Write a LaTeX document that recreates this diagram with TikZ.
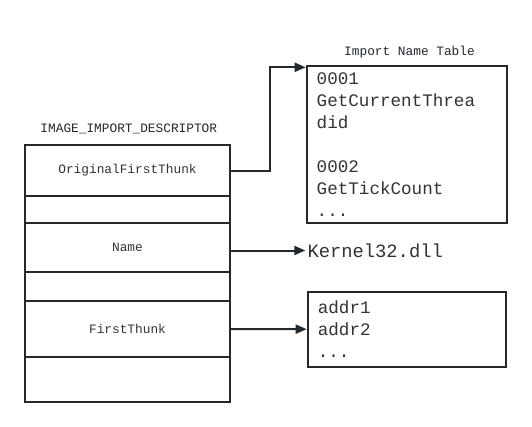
\documentclass[tikz,border=0pt]{standalone}
\usepackage{fontspec}
\setmonofont{Liberation Mono}
\usetikzlibrary{arrows.meta}
\definecolor{ln}{HTML}{23292E}
\definecolor{tx}{HTML}{333333}
\begin{document}
\begin{tikzpicture}[x=1pt,y=-1pt,
  rowbox/.style={draw=ln,line width=2pt,minimum width=205pt,inner sep=0pt,font=\ttfamily\fontsize{12.8}{14}\selectfont,text=tx},
  listbox/.style={draw=ln,line width=2pt,align=left,inner sep=0pt,font=\ttfamily\fontsize{17.6}{22}\selectfont,text=tx},
  title/.style={font=\ttfamily\fontsize{12.8}{14}\selectfont,text=ln,inner sep=0pt},
  conn/.style={draw=ln,line width=2pt,-{Triangle[length=11pt,width=9pt]}}]
\useasboundingbox (0,0) rectangle (532,426);
\fill[white] (0,0) rectangle (532,426);
% left table
\node[title] (t1) at (128.8,129.3) {IMAGE\_IMPORT\_DESCRIPTOR};
\node[rowbox,minimum height=51pt] (r1) at (127.5,170.5) {OriginalFirstThunk};
\node[rowbox,minimum height=26.7pt] (r2) at (127.5,209.35) {};
\node[rowbox,minimum height=49.3pt] (r3) at (127.5,247.35) {Name};
\node[rowbox,minimum height=28.7pt] (r4) at (127.5,286.35) {};
\node[rowbox,minimum height=56.6pt] (r5) at (127.5,329) {FirstThunk};
\node[rowbox,minimum height=44.4pt] (r6) at (127.5,379.5) {};
% import name table
\node[title] (t2) at (409.5,51.7) {Import Name Table};
\node[listbox,minimum width=200pt,minimum height=156.7pt,text width=180pt] (int) at (406.7,144.35)
  {0001\\GetCurrentThrea\\did\\\mbox{}\\0002\\GetTickCount\\...};
% kernel32
\node[anchor=west,inner sep=2pt,font=\ttfamily\fontsize{18.8}{22}\selectfont,text=tx] (k) at (305.3,250.5) {Kernel32.dll};
% addr box
\node[listbox,minimum width=198.3pt,minimum height=75pt,text width=178pt] (addr) at (406.85,329.2)
  {addr1\\addr2\\...};
% connectors
\coordinate (intin) at ([yshift=-2.3pt]int.north west);
\draw[conn] (r1.east) -- ++(38.5,0) |- (intin);
\draw[conn] (r3.east |- k.west) -- (k.west);
\draw[conn] (r5.east) -- (addr.west);
\end{tikzpicture}
\end{document}
